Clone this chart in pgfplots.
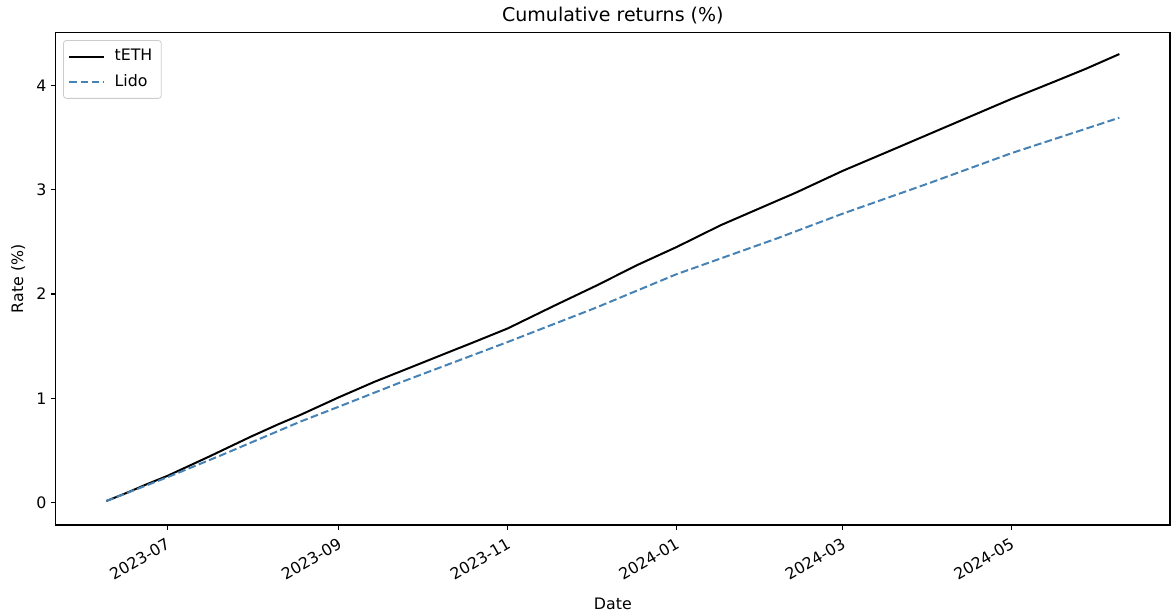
\documentclass[border=0pt]{standalone}
\usepackage{pgfplots}
\pgfplotsset{compat=1.18}
\usepackage{fontspec}
\setmainfont{DejaVu Sans}
\definecolor{steel}{RGB}{70,130,180}
\pgfplotstableread{
d v
8 0.016
15 0.09
22 0.17
30 0.256
45 0.44
60 0.63
70 0.75
78 0.84
92 1.01
105 1.16
114 1.255
132 1.446
140 1.53
153 1.67
170 1.89
185 2.08
200 2.28
214 2.45
230 2.66
250 2.89
257 2.97
274 3.18
290 3.36
305 3.53
320 3.70
335 3.87
350 4.03
362 4.16
374 4.30
}\teth
\pgfplotstableread{
d v
8 0.016
30 0.243
50 0.46
78 0.776
92 0.92
114 1.15
132 1.33
153 1.54
185 1.87
214 2.19
250 2.53
274 2.77
305 3.06
335 3.35
374 3.69
}\lido
\begin{document}
\begin{tikzpicture}
\path[use as bounding box] (-27.85pt,-44pt) rectangle (558.15pt,262.5pt);
\begin{axis}[
  at={(0pt,0pt)}, anchor=south west,
  scale only axis, width=557.15pt, height=246.15pt,
  xmin=-10.3, xmax=392.3, ymin=-0.214, ymax=4.505,
  xtick={30,92,153,214,274,335},
  xticklabels={2023-07,2023-09,2023-11,2024-01,2024-03,2024-05},
  ytick={0,1,2,3,4},
  /pgf/number format/assume math mode=true,
  tick align=outside, major tick length=2.43pt,
  tick style={black, line width=0.55pt},
  xtick pos=bottom, ytick pos=left,
  axis line style={line width=0.55pt},
  tick label style={font=\fontsize{7.9}{9.5}\selectfont},
  xticklabel style={rotate=30, anchor=north east, inner sep=2.5pt},
  yticklabel style={inner sep=2pt},
  title={Cumulative returns (\%)},
  title style={font=\fontsize{9.5}{11.4}\selectfont, yshift=-5pt},
  xlabel={Date}, ylabel={Rate (\%)},
  label style={font=\fontsize{7.9}{9.5}\selectfont},
  xlabel style={yshift=-1.5pt},
  ylabel style={yshift=0pt},
  legend style={at={(0.0066,0.985)}, anchor=north west, draw=black!20,
    rounded corners=1.5pt, font=\fontsize{7.9}{9.5}\selectfont,
    inner sep=2.5pt, row sep=1.2pt,
    /tikz/every odd column/.append style={column sep=3pt}},
  legend cell align=left,
]
\addplot[black, line width=1pt] table[x=d,y=v] {\teth};
\addlegendentry{tETH}
\addplot[steel, line width=1pt, dash pattern=on 3.85pt off 1.67pt] table[x=d,y=v] {\lido};
\addlegendentry{Lido}
\end{axis}
\end{tikzpicture}
\end{document}
